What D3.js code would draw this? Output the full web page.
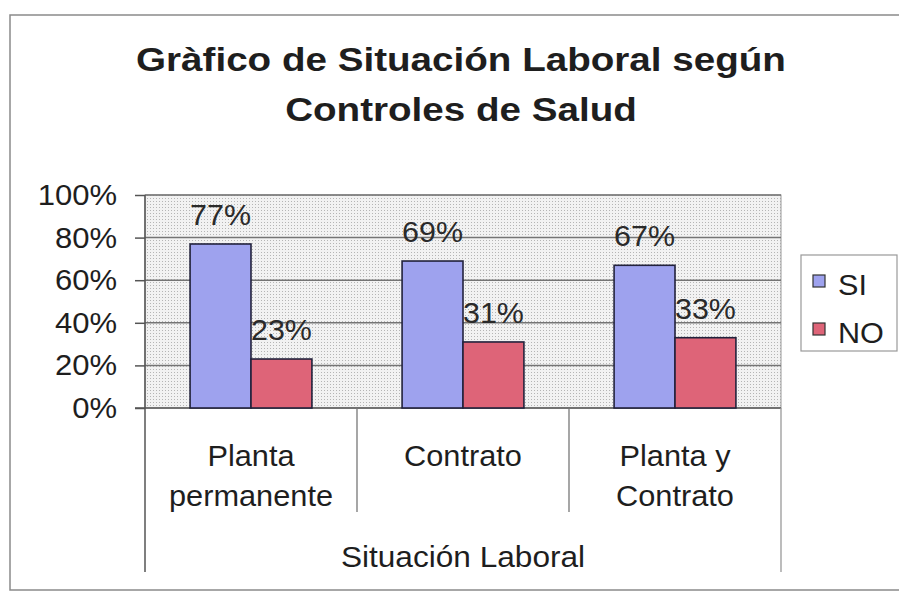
<!DOCTYPE html>
<html>
<head>
<meta charset="utf-8">
<script src="https://cdn.jsdelivr.net/npm/d3@7"></script>
<style>
  body { margin: 0; background: #fff; }
  svg text { font-family: "Liberation Sans", Arial, sans-serif; fill: #1e1e1e; }
</style>
</head>
<body>
<div class="chart-container"></div>
<script>
// Data.
const categories = ['Planta permanente', 'Contrato', 'Planta y Contrato'];
const categoryLines = [['Planta', 'permanente'], ['Contrato'], ['Planta y', 'Contrato']];
const seriesNames = ['SI', 'NO'];
const siValues = [0.77, 0.69, 0.67];
const noValues = [0.23, 0.31, 0.33];
const yTicks = [0, 0.2, 0.4, 0.6, 0.8, 1];
const titleLines = ['Gràfico de Situación Laboral según', 'Controles de Salud'];
const axisTitle = 'Situación Laboral';

const colors = {SI: '#9ea2ee', NO: '#de6478'};

const svg = d3
    .select('.chart-container')
    .append('svg')
    .attr('width', 899)
    .attr('height', 594);

const area = {left: 145, right: 781, top: 195, bottom: 408};

// stretched text helper (the picture is a bit wide)
function stretchedText(g, x, y, str, size, sx, anchor, weight) {
    return g.append('text')
        .attr('transform', `translate(${x}, ${y}) scale(${sx}, 1)`)
        .attr('text-anchor', anchor || 'middle')
        .style('font-size', size + 'px')
        .style('font-weight', weight || 'normal')
        .text(str);
}

function drawFrame() {
    svg.append('rect')
        .attr('x', 10).attr('y', 15)
        .attr('width', 900).attr('height', 575)
        .attr('fill', '#fff')
        .attr('stroke', '#8a8a8a')
        .attr('stroke-width', 1.5);
}

function drawTitle() {
    const g = svg.append('g').attr('class', 'chart-header');
    titleLines.forEach((line, i) => {
        stretchedText(g, 461, 71 + i * 50, line, 33, 1.17, 'middle', 'bold');
    });
}

function drawPlot() {
    const xScale = d3.scaleBand()
        .domain(categories)
        .range([area.left, area.right]);

    const xInner = d3.scaleBand()
        .domain(seriesNames)
        .range([0, xScale.bandwidth()])
        .paddingOuter(0.74);

    const yScale = d3.scaleLinear()
        .domain([0, 1])
        .range([area.bottom, area.top]);

    // dotted background
    const defs = svg.append('defs');
    const pat = defs.append('pattern')
        .attr('id', 'dots')
        .attr('width', 3).attr('height', 3)
        .attr('patternUnits', 'userSpaceOnUse');
    pat.append('rect').attr('width', 3).attr('height', 3).attr('fill', '#f2f2f2');
    pat.append('rect').attr('width', 1).attr('height', 1).attr('fill', '#b5b5b5');

    svg.append('rect')
        .attr('x', area.left).attr('y', area.top)
        .attr('width', area.right - area.left)
        .attr('height', area.bottom - area.top)
        .attr('fill', 'url(#dots)')
        .attr('stroke', '#9a9a9a');

    // grid
    svg.append('g')
        .selectAll('line')
        .data(yTicks.filter(d => d > 0))
        .enter()
        .append('line')
        .attr('x1', area.left).attr('x2', area.right)
        .attr('y1', d => yScale(d)).attr('y2', d => yScale(d))
        .attr('stroke', '#747474')
        .attr('stroke-width', 1.5);

    // y axis
    const axisY = d3.axisLeft(yScale)
        .tickValues(yTicks)
        .tickSize(10)
        .tickFormat('');
    const gy = svg.append('g')
        .attr('transform', `translate(${area.left}, 0)`)
        .call(axisY);
    gy.select('.domain').remove();
    gy.selectAll('line').attr('stroke', '#555').attr('stroke-width', 1.5);
    svg.append('line')
        .attr('x1', area.left).attr('x2', area.left)
        .attr('y1', area.top).attr('y2', 572)
        .attr('stroke', '#555').attr('stroke-width', 1.5);

    const yLabels = svg.append('g');
    yTicks.forEach(t => {
        stretchedText(yLabels, 117, yScale(t) + 10, d3.format('.0%')(t), 29, 1.07, 'end');
    });

    // x axis baseline + dividers
    svg.append('line')
        .attr('x1', area.left - 10).attr('x2', area.right)
        .attr('y1', area.bottom).attr('y2', area.bottom)
        .attr('stroke', '#555').attr('stroke-width', 1.5);

    svg.append('g')
        .selectAll('line')
        .data(categories.slice(1))
        .enter()
        .append('line')
        .attr('x1', d => xScale(d)).attr('x2', d => xScale(d))
        .attr('y1', area.bottom).attr('y2', 512)
        .attr('stroke', '#777').attr('stroke-width', 1.3);

    svg.append('line')
        .attr('x1', area.right).attr('x2', area.right)
        .attr('y1', area.bottom).attr('y2', 572)
        .attr('stroke', '#999').attr('stroke-width', 1.3);

    const xLabels = svg.append('g');
    categories.forEach((c, i) => {
        categoryLines[i].forEach((line, j) => {
            stretchedText(xLabels, xScale(c) + xScale.bandwidth() / 2, 466 + j * 40, line, 29, 1.06);
        });
    });
    stretchedText(svg, (area.left + area.right) / 2, 567, axisTitle, 29, 1.09);

    // bars
    const rows = categories.map((c, i) => ({cat: c, SI: siValues[i], NO: noValues[i]}));
    const groups = svg.append('g')
        .selectAll('g')
        .data(rows)
        .enter()
        .append('g')
        .attr('transform', d => `translate(${xScale(d.cat)}, 0)`);

    groups.selectAll('.bar')
        .data(d => seriesNames.map(s => ({key: s, value: d[s]})))
        .enter()
        .append('rect')
        .attr('class', 'bar')
        .attr('x', d => xInner(d.key))
        .attr('y', d => yScale(d.value))
        .attr('width', xInner.bandwidth())
        .attr('height', d => yScale(0) - yScale(d.value))
        .style('fill', d => colors[d.key])
        .style('stroke', '#22223c')
        .style('stroke-width', 1.6);

    groups.each(function(d) {
        const g = d3.select(this);
        seriesNames.forEach(s => {
            stretchedText(g, xInner(s) + xInner.bandwidth() / 2, yScale(d[s]) - 19,
                d3.format('.0%')(d[s]), 29, 1.05).style('fill', '#2a2a2a');
        });
    });
}

function drawLegend() {
    const g = svg.append('g').attr('class', 'legend');
    g.append('rect')
        .attr('x', 801).attr('y', 255)
        .attr('width', 96).attr('height', 96)
        .attr('fill', '#fff')
        .attr('stroke', '#999')
        .attr('stroke-width', 1.2);

    seriesNames.forEach((s, i) => {
        g.append('rect')
            .attr('x', 813).attr('y', 275 + i * 48)
            .attr('width', 12).attr('height', 12)
            .attr('fill', colors[s])
            .attr('stroke', '#333')
            .attr('stroke-width', 1.2);
        stretchedText(g, 838, 295 + i * 48, s, 30, 1.02, 'start');
    });
}

drawFrame();
drawTitle();
drawPlot();
drawLegend();
</script>
</body>
</html>
